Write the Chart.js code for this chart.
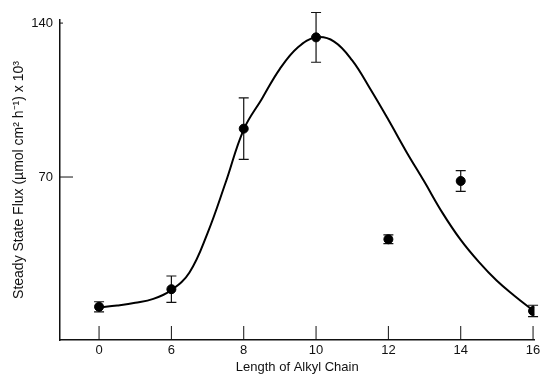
<!DOCTYPE html>
<html>
<head>
<meta charset="utf-8">
<script src="https://cdn.jsdelivr.net/npm/chart.js@4"></script>
<style>
  body { margin: 0; background: #fff; }
</style>
</head>
<body>
<canvas id="chartFlux" width="540" height="379"></canvas>
<script>
// categorias (comprimento da cadeia alquila)
const categories = ['0', '6', '8', '10', '12', '14', '16'];
// fluxo medido + barras de erro
const fluxMean = [11, 19, 92, 133.5, 41.7, 68.2, 9.1];
const fluxErr = [2.3, 6, 14, 11.3, 2, 4.7, 2.6];
// curva ajustada (posição em índice de categoria)
const curvePos = [0, 0.25, 0.5, 0.75, 1, 1.25, 1.5, 1.75, 2, 2.25, 2.5, 2.75, 3, 3.25, 3.5, 3.75, 4, 4.25, 4.5, 4.75, 5, 5.25, 5.5, 5.75, 6];
const curveFlux = [10.7, 11.6, 12.8, 14.6, 18.6, 26.6, 44.5, 67.5, 91.6, 105.5, 119.2, 129, 133.5, 131.6, 123, 110, 96, 81.4, 67.7, 53.6, 41.4, 31.4, 22.8, 15.8, 9.3];
const yTicks = [70, 140];

const fontFam = "'Liberation Sans', Arial, Helvetica, sans-serif";

// barras de erro + marcas internas dos eixos
const extrasPlugin = {
    id: 'extras',
    beforeDatasetsDraw(chart) {
        const ctx = chart.ctx;
        const xs = chart.scales.x, ys = chart.scales.y;
        ctx.save();
        ctx.strokeStyle = '#111';
        ctx.lineWidth = 1.2;
        fluxMean.forEach((m, i) => {
            const px = xs.getPixelForValue(i);
            const top = ys.getPixelForValue(m + fluxErr[i]);
            const bot = ys.getPixelForValue(m - fluxErr[i]);
            ctx.beginPath();
            ctx.moveTo(px, top); ctx.lineTo(px, bot);
            ctx.moveTo(px - 5, top); ctx.lineTo(px + 5, top);
            ctx.moveTo(px - 5, bot); ctx.lineTo(px + 5, bot);
            ctx.stroke();
        });
        // ticks para dentro
        ctx.lineWidth = 1;
        const b = chart.chartArea.bottom, l = chart.chartArea.left;
        categories.forEach((c, i) => {
            const px = xs.getPixelForValue(i);
            ctx.beginPath();
            ctx.moveTo(px, b); ctx.lineTo(px, b - 14);
            ctx.stroke();
        });
        yTicks.forEach(v => {
            const py = ys.getPixelForValue(v);
            ctx.beginPath();
            ctx.moveTo(l, py); ctx.lineTo(l + (v === 70 ? 13 : 3), py);
            ctx.stroke();
        });
        ctx.restore();
    }
};

const ctxFlux = document.getElementById('chartFlux').getContext('2d');
new Chart(ctxFlux, {
    type: 'scatter',
    data: {
        datasets: [{
            label: 'Curva',
            type: 'line',
            data: curvePos.map((p, i) => ({ x: p, y: curveFlux[i] })),
            borderColor: '#000',
            borderWidth: 2,
            pointRadius: 0,
            tension: 0.4,
            fill: false
        }, {
            label: 'Fluxo',
            data: fluxMean.map((m, i) => ({ x: i, y: m })),
            backgroundColor: '#000',
            borderColor: '#000',
            pointRadius: 4.5,
            pointHoverRadius: 4.5
        }]
    },
    options: {
        responsive: false,
        animation: false,
        layout: { padding: { left: 4, right: 0, top: 20, bottom: 0 } },
        plugins: {
            legend: { display: false },
            tooltip: { enabled: false }
        },
        scales: {
            x: {
                type: 'linear',
                min: -0.54,
                max: 6.02,
                afterBuildTicks: axis => { axis.ticks = categories.map((c, i) => ({ value: i })); },
                afterFit: axis => {
                    axis.height = 39;
                    axis.paddingLeft = 0;
                    axis.paddingRight = 0;
                },
                ticks: {
                    callback: v => categories[v],
                    color: '#111',
                    font: { family: fontFam, size: 13 },
                    padding: 3,
                    maxRotation: 0
                },
                grid: { display: false, drawTicks: false },
                border: { display: true, color: '#111', width: 1.5 },
                title: {
                    display: true,
                    text: 'Length of Alkyl Chain',
                    color: '#111',
                    font: { family: fontFam, size: 13 },
                    padding: { top: 0, bottom: 4 }
                }
            },
            y: {
                min: -4.1,
                max: 141.4,
                afterBuildTicks: axis => { axis.ticks = yTicks.map(v => ({ value: v })); },
                afterFit: axis => {
                    axis.width = 56;
                    axis.paddingTop = 0;
                    axis.paddingBottom = 0;
                },
                ticks: {
                    color: '#111',
                    font: { family: fontFam, size: 13 },
                    padding: 7
                },
                grid: { display: false, drawTicks: false },
                border: { display: true, color: '#111', width: 1.5 },
                title: {
                    display: true,
                    text: 'Steady State Flux (\u00b5mol cm\u00b2 h\u207b\u00b9) x 10\u00b3',
                    color: '#111',
                    font: { family: fontFam, size: 14 },
                    padding: { top: 7, bottom: 0 }
                }
            }
        }
    },
    plugins: [extrasPlugin]
});
</script>
</body>
</html>
